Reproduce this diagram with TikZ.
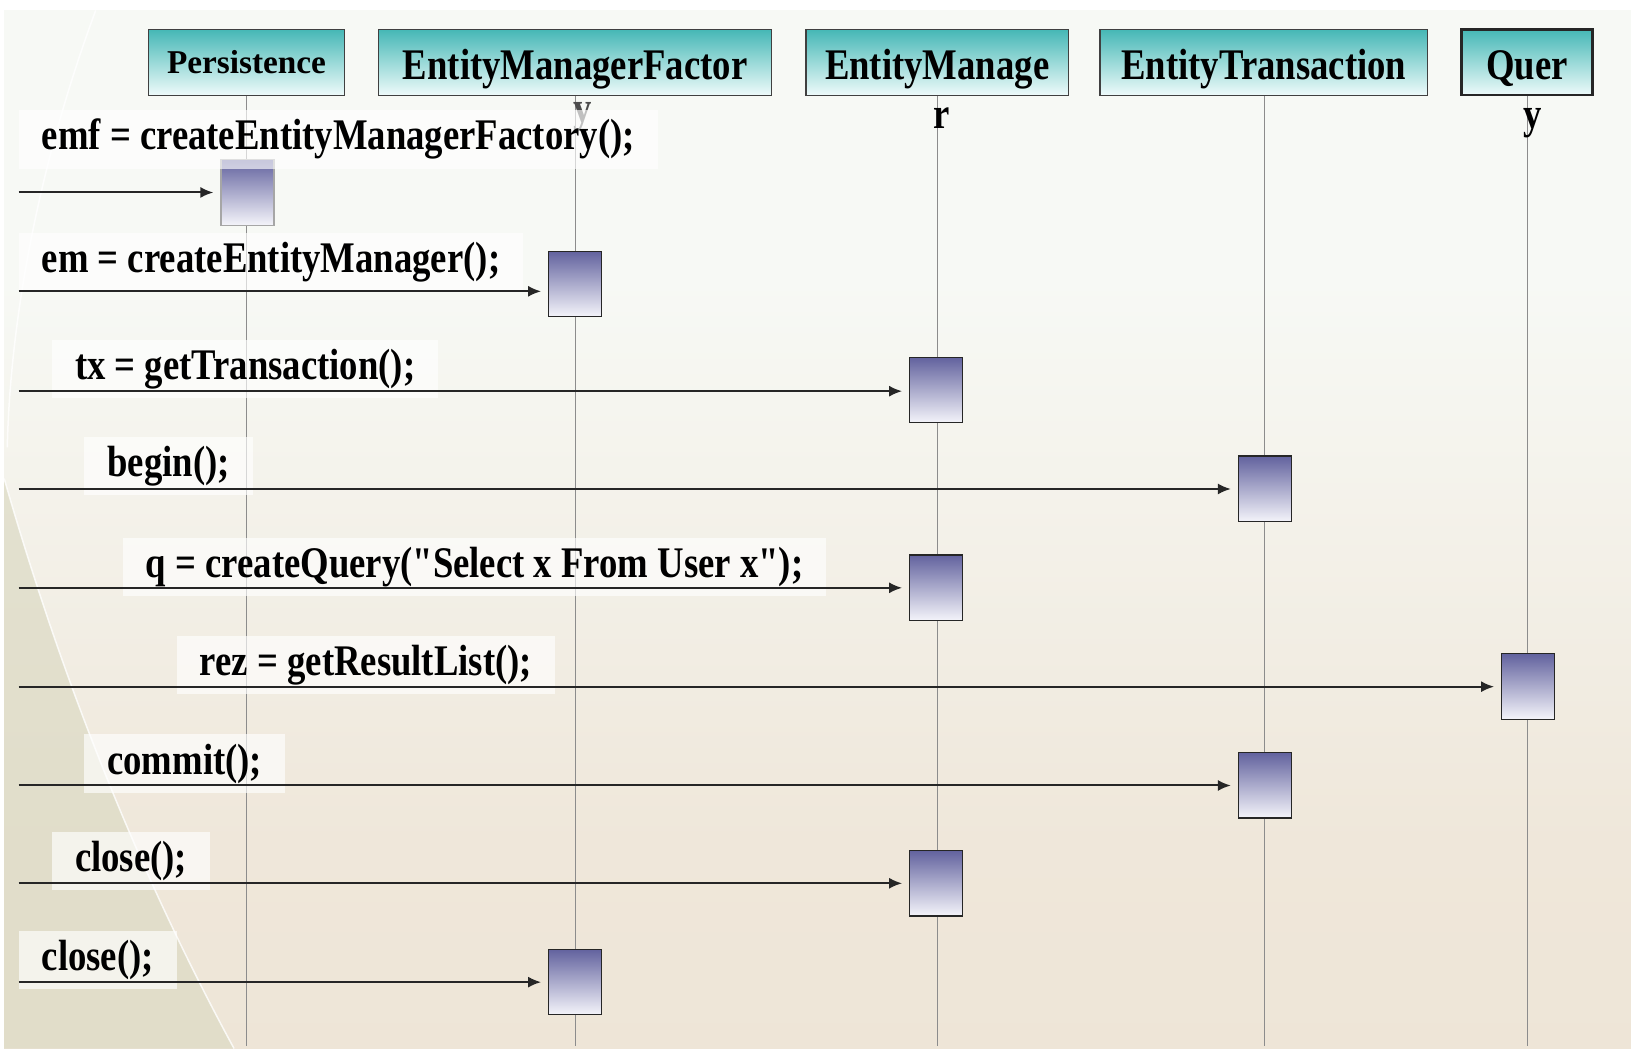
\documentclass[tikz,border=0pt]{standalone}
\usepackage{fontspec}
\setmainfont{Liberation Serif}
\newfontfamily\umlfont{Liberation Serif}[FakeStretch=0.84]
\usetikzlibrary{arrows.meta}

\definecolor{hdrtop}{RGB}{70,184,182}
\definecolor{hdrbot}{RGB}{238,250,250}
\definecolor{acttop}{RGB}{98,98,158}
\definecolor{actbot}{RGB}{244,244,250}
\definecolor{slidetop}{RGB}{218,240,245}
\definecolor{slidemid}{RGB}{247,249,245}
\definecolor{slidelow}{RGB}{239,231,218}
\definecolor{slidebot}{RGB}{235,225,208}
\definecolor{swoosh}{RGB}{220,218,196}
\pgfdeclareverticalshading{slide}{100bp}{color(0bp)=(slidebot); color(35bp)=(slidelow);
  color(62bp)=(slidemid); color(80bp)=(slidemid); color(100bp)=(slidetop)}

\begin{document}
\begin{tikzpicture}[x=1pt,y=-1pt,scale=1.04,every node/.append style={transform shape},
  hdr/.style={draw=black!75,line width=1.3pt,top color=hdrtop,bottom color=hdrbot,
    minimum height=63pt,inner sep=0pt,text height=41pt,text depth=9pt,
    font=\umlfont\bfseries\fontsize{42}{44}\selectfont},
  act/.style={draw=black!85,line width=1.3pt,top color=acttop,bottom color=actbot,
    minimum width=51pt,minimum height=63pt,inner sep=0pt},
  lbl/.style={anchor=west,fill=white,fill opacity=0.65,text opacity=1,inner xsep=22pt,
    minimum height=56pt,font=\umlfont\bfseries\fontsize{42}{44}\selectfont},
  wrap/.style={inner sep=0pt,font=\umlfont\bfseries\fontsize{42}{44}\selectfont},
  life/.style={black!45,line width=0.8pt},
  msg/.style={black!85,line width=2pt,-{Latex[length=13pt,width=11pt]},shorten >=7pt}]
\useasboundingbox (0,0) rectangle (1568,1008);

% slide background
\fill[white] (0,0) rectangle (1568,1008);
\shade[shading=slide] (4,10) rectangle (1568,1008);
\fill[swoosh,opacity=0.7] (4,460) .. controls (70,690) and (150,870) .. (225,1008) -- (4,1008) -- cycle;
\draw[white,line width=1.5pt,opacity=0.8] (92,10) .. controls (40,150) and (10,300) .. (7,430);
\draw[white,line width=1.5pt,opacity=0.8] (4,460) .. controls (70,690) and (150,870) .. (225,1008);

% classes
\node[hdr,minimum width=188pt,text height=22pt,text depth=0pt,
  font=\bfseries\fontsize{32}{34}\selectfont] (pers) at (237,60) {Persistence};
\node[hdr,minimum width=378pt] (emf) at (553,60) {EntityManagerFactor};
\node[hdr,minimum width=252pt] (em) at (901,60) {EntityManage};
\node[hdr,minimum width=315pt] (tx) at (1215,60) {EntityTransaction};
\node[hdr,minimum width=126pt,line width=2.4pt,draw=black!85] (query) at (1468,60) {Quer};

% lifelines
\coordinate (bot) at (0,1005);
\draw[life] (pers.south) -- (pers.south |- bot);
\draw[life] (emf.south) -- (emf.south |- bot);
\draw[life] (em.south) -- (em.south |- bot);
\draw[life] (tx.south) -- (tx.south |- bot);
\draw[life] (query.south) -- (query.south |- bot);

% wrapped letters of the class names
\node[wrap,black!70] (emfy) at (560,113) {y};
\node[wrap] (emr) at (905,114) {r};
\node[wrap] (queryy) at (1473,118) {y};

% activations
\node[act,draw=black!35] (a1) at (238,185) {};
\node[act] (a2) at (553,273) {};
\node[act] (a3) at (900,375) {};
\node[act] (a4) at (1216,470) {};
\node[act] (a5) at (900,565) {};
\node[act] (a6) at (1469,660) {};
\node[act] (a7) at (1216,755) {};
\node[act] (a8) at (900,849) {};
\node[act] (a9) at (553,944) {};

% calls
\node[lbl] (l1) at (18,134) {emf = createEntityManagerFactory();};
\node[lbl] (l2) at (18,252) {em = createEntityManager();};
\node[lbl] (l3) at (50,355) {tx = getTransaction();};
\node[lbl] (l4) at (81,448) {begin();};
\node[lbl] (l5) at (118,545) {q = createQuery("Select x From User x");};
\node[lbl] (l6) at (170,639) {rez = getResultList();};
\node[lbl] (l7) at (81,734) {commit();};
\node[lbl] (l8) at (50,828) {close();};
\node[lbl] (l9) at (18,923) {close();};

\coordinate (m1) at (18,185);
\coordinate (m2) at (18,280);
\coordinate (m3) at (18,376);
\coordinate (m4) at (18,470);
\coordinate (m5) at (18,565);
\coordinate (m6) at (18,660);
\coordinate (m7) at (18,755);
\coordinate (m8) at (18,849);
\coordinate (m9) at (18,944);
\draw[msg] (m1) -- (m1 -| a1.west);
\draw[msg] (m2) -- (m2 -| a2.west);
\draw[msg] (m3) -- (m3 -| a3.west);
\draw[msg] (m4) -- (m4 -| a4.west);
\draw[msg] (m5) -- (m5 -| a5.west);
\draw[msg] (m6) -- (m6 -| a6.west);
\draw[msg] (m7) -- (m7 -| a7.west);
\draw[msg] (m8) -- (m8 -| a8.west);
\draw[msg] (m9) -- (m9 -| a9.west);
\end{tikzpicture}
\end{document}
